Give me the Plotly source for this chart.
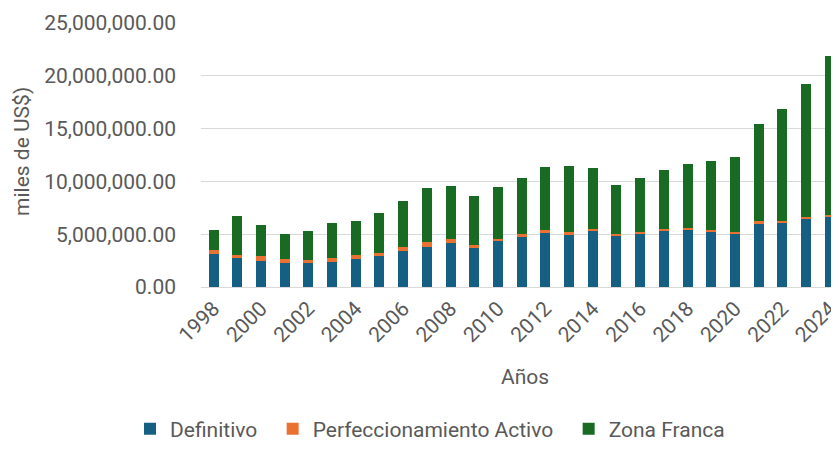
import plotly.graph_objects as go

years = list(range(1998, 2025))
definitivo = [3.12, 2.71, 2.46, 2.24, 2.24, 2.40, 2.65, 2.93, 3.41, 3.75, 4.16, 3.72, 4.35,
              4.82, 5.14, 4.95, 5.33, 4.89, 5.04, 5.33, 5.42, 5.23, 5.11, 5.99, 6.05, 6.40, 6.59]
perfeccionamiento = [0.38, 0.35, 0.44, 0.38, 0.34, 0.37, 0.35, 0.32, 0.40, 0.48, 0.41, 0.22, 0.19,
                     0.16, 0.25, 0.25, 0.13, 0.12, 0.16, 0.16, 0.16, 0.16, 0.12, 0.22, 0.22, 0.22, 0.22]
zona_franca = [1.92, 3.66, 2.99, 2.36, 2.69, 3.31, 3.27, 3.72, 4.35, 5.11, 4.98, 4.70, 4.89,
               5.33, 5.96, 6.27, 5.77, 4.61, 5.11, 5.55, 6.03, 6.56, 7.07, 9.27, 10.57, 12.58, 15.07]

def to_units(vals):
    return [v * 1e6 for v in vals]

FONT = "Roboto"
GRAY = "#595959"
FS = 21

# the page body has an 8px margin, so the figure sits at (8, 8) in the window
W, H = 823, 434
L, T = 193, 15
PH = 264
B = H - T - PH
PW = W - L
STEP = 23.7                       # pixels per year
X0 = 1998 - 12.5 / STEP           # left edge of the category axis

fig = go.Figure()
fig.add_trace(go.Bar(x=years, y=to_units(definitivo), name="Definitivo\u00a0\u00a0",
                     marker=dict(color="#156082", line=dict(width=0))))
fig.add_trace(go.Bar(x=years, y=to_units(perfeccionamiento), name="Perfeccionamiento Activo\u00a0\u00a0",
                     marker=dict(color="#E97132", line=dict(width=0))))
fig.add_trace(go.Bar(x=years, y=to_units(zona_franca), name="Zona Franca",
                     marker=dict(color="#196B24", line=dict(width=0))))

fig.update_layout(
    width=W, height=H, autosize=False,
    barmode="stack", bargap=1 - 10 / STEP,
    paper_bgcolor="white", plot_bgcolor="white",
    margin=dict(l=L, r=0, t=T, b=B, pad=0),
    font=dict(family=FONT, size=FS, color=GRAY),
    showlegend=True,
    legend=dict(orientation="h", xref="container", yref="container",
                x=122 / W, xanchor="left", y=1 - 421 / H, yanchor="middle",
                font=dict(size=FS, color=GRAY), itemwidth=30, traceorder="normal"),
    xaxis=dict(range=[X0, X0 + PW / STEP], tickmode="linear", tick0=1998, dtick=2,
               tickangle=-45, showgrid=False, showline=True, linecolor="#d9d9d9",
               linewidth=1, ticks="", tickfont=dict(size=FS, color=GRAY), automargin=False,
               ticklabeloverflow="allow"),
    yaxis=dict(range=[0, 25e6], tickmode="linear", tick0=0, dtick=5e6,
               tickformat=",.2f", showgrid=True, gridcolor="#d9d9d9", gridwidth=1,
               zeroline=False, ticks="", ticklabelstandoff=24, automargin=False,
               tickfont=dict(size=FS, color=GRAY)),
    annotations=[
        dict(text="miles de US$)", xref="paper", yref="paper", x=(14 - L) / PW,
             y=(T + PH - 144) / PH, xanchor="center", yanchor="middle", textangle=-90,
             showarrow=False, font=dict(size=FS, color=GRAY)),
        dict(text="Años", xref="paper", yref="paper", x=(517 - L) / PW,
             y=-90 / PH, xanchor="center", yanchor="middle",
             showarrow=False, font=dict(size=FS, color=GRAY)),
    ],
)

fig.write_html("out.html")
